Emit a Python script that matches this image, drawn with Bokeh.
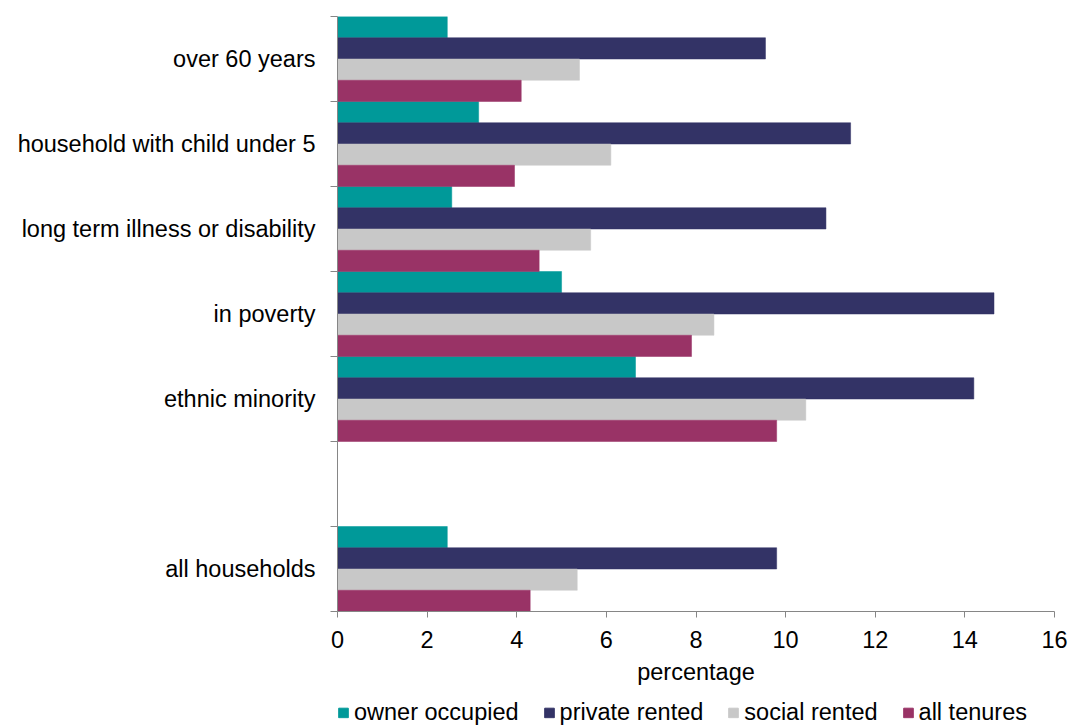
import numpy as np
from bokeh.plotting import figure
from bokeh.layouts import column
from bokeh.models import Range1d, FixedTicker, Legend, LegendItem
from bokeh.embed import file_html
from bokeh.resources import INLINE

# categories, top to bottom ("" is the empty spacer slot)
categories = ["over 60 years", "household with child under 5",
              "long term illness or disability", "in poverty",
              "ethnic minority", "", "all households"]
series = ["owner occupied", "private rented", "social rented", "all tenures"]
owner_occupied = [2.45, 3.15, 2.55, 5.0, 6.65, np.nan, 2.45]
private_rented = [9.55, 11.45, 10.9, 14.65, 14.2, np.nan, 9.8]
social_rented = [5.4, 6.1, 5.65, 8.4, 10.45, np.nan, 5.35]
all_tenures = [4.1, 3.95, 4.5, 7.9, 9.8, np.nan, 4.3]
x_ticks = [0, 2, 4, 6, 8, 10, 12, 14, 16]

colors = ["#009999", "#333366", "#c8c8c8", "#993366"]
values = [owner_occupied, private_rented, social_rented, all_tenures]

FONT = "Liberation Sans"
FS = "23.5px"
n = len(categories)
centers = np.array([n - i - 0.5 for i in range(n)])
bar_h = 1.0 / len(series)

p = figure(width=1071, height=697, output_backend="svg", toolbar_location=None,
           x_range=Range1d(0, 16), y_range=Range1d(0, n),
           min_border_left=337, min_border_right=17, min_border_top=16,
           min_border_bottom=86)
p.outline_line_color = None
p.xgrid.grid_line_color = None
p.ygrid.grid_line_color = None

for k, (name, vals, col) in enumerate(zip(series, values, colors)):
    v = np.array(vals, dtype=float)
    mask = ~np.isnan(v)
    offs = 0.5 - bar_h * (k + 0.5)
    p.hbar(y=(centers + offs)[mask], right=v[mask], left=0, height=bar_h,
           fill_color=col, line_color=col, line_width=0.5)

# x axis
xa = p.xaxis[0]
xa.ticker = FixedTicker(ticks=x_ticks)
xa.axis_label = "percentage"
xa.axis_label_text_font = FONT
xa.axis_label_text_font_size = FS
xa.axis_label_text_font_style = "normal"
xa.axis_label_text_color = "#000000"
xa.axis_label_standoff = 8
xa.major_label_text_font = FONT
xa.major_label_text_font_size = FS
xa.major_label_text_color = "#000000"
xa.major_label_standoff = 13
xa.axis_line_color = "#868686"
xa.major_tick_line_color = "#868686"
xa.major_tick_out = 6
xa.major_tick_in = 0
xa.minor_tick_line_color = None

# y axis
ya = p.yaxis[0]
label_pos = [float(c) for c, cat in zip(centers, categories) if cat]
ya.ticker = FixedTicker(ticks=label_pos, minor_ticks=list(range(n + 1)))
ya.major_label_overrides = {float(c): cat for c, cat in zip(centers, categories) if cat}
ya.major_label_text_font = FONT
ya.major_label_text_font_size = FS
ya.major_label_text_color = "#000000"
ya.major_label_standoff = 15
ya.axis_line_color = "#868686"
ya.major_tick_line_color = None
ya.major_tick_out = 0
ya.minor_tick_line_color = "#868686"
ya.minor_tick_out = 7
ya.minor_tick_in = 0

# legend strip below the chart (swatch renderers sit outside the strip's ranges)
q = figure(width=1071, height=30, output_backend="svg", toolbar_location=None,
           x_axis_location=None, y_axis_location=None,
           x_range=Range1d(0, 1), y_range=Range1d(0, 1),
           min_border=0, min_border_left=334)
q.outline_line_color = None
q.xgrid.grid_line_color = None
q.ygrid.grid_line_color = None
items = []
for name, col in zip(series, colors):
    r = q.hbar(y=[-5], right=[-5], left=-6, height=0.5, fill_color=col, line_color=col)
    items.append(LegendItem(label=name, renderers=[r]))
legend = Legend(items=items, orientation="horizontal", location="left",
                label_text_font=FONT, label_text_font_size=FS,
                label_text_color="#000000", glyph_width=12, glyph_height=12,
                label_standoff=5, spacing=24, padding=0, margin=0,
                border_line_color=None, background_fill_alpha=0)
q.add_layout(legend, "center")

layout = column(p, q, spacing=0)
open("out.html", "w").write(file_html(layout, INLINE))
